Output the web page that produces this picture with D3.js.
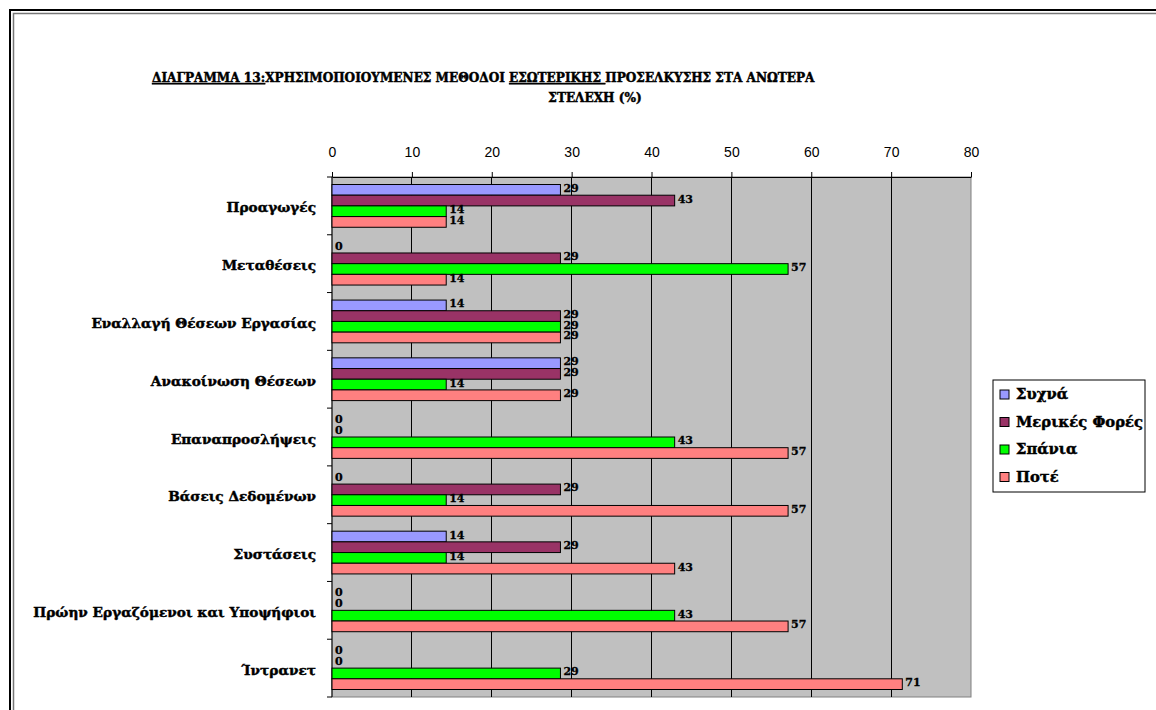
<!DOCTYPE html>
<html>
<head>
<meta charset="utf-8">
<script src="https://cdn.jsdelivr.net/npm/d3@7"></script>
<style>
  body { margin: 0; background: #fff; }
  svg { display: block; }
  .ttl, .cat, .val, .leg { font-family: "DejaVu Serif", serif; font-weight: bold;
                           stroke: #000; stroke-width: 0.45px; paint-order: stroke; }
  .ttl { font-size: 13px; }
  .cat { font-size: 14px; }
  .val { font-size: 11px; stroke-width: 0.3px; }
  .leg { font-size: 15px; }
  .tick-x { font-family: "Liberation Sans", Arial, sans-serif; font-size: 14px; }
</style>
</head>
<body>
<svg id="chart"></svg>
<script>
//
// data (% of 7 answers)
var categories = ['Προαγωγές', 'Μεταθέσεις', 'Εναλλαγή Θέσεων Εργασίας', 'Ανακοίνωση Θέσεων',
                  'Επαναπροσλήψεις', 'Βάσεις Δεδομένων', 'Συστάσεις',
                  'Πρώην Εργαζόμενοι και Υποψήφιοι', 'Ίντρανετ'];
var seriesNames = ['Συχνά', 'Μερικές Φορές', 'Σπάνια', 'Ποτέ'];
var often     = [28.6, 0,    14.3, 28.6, 0,    0,    14.3, 0,    0];
var sometimes = [42.9, 28.6, 28.6, 28.6, 0,    28.6, 28.6, 0,    0];
var rarely    = [14.3, 57.1, 28.6, 14.3, 42.9, 14.3, 14.3, 42.9, 28.6];
var never     = [14.3, 14.3, 28.6, 28.6, 57.1, 57.1, 42.9, 57.1, 71.4];
var xTicks = [0, 10, 20, 30, 40, 50, 60, 70, 80];
var colors = ['#9999ff', '#993366', '#00ff00', '#ff8080'];

var series = [often, sometimes, rarely, never];

var W = 1156, H = 710,
    pLeft = 332, pRight = 971, pTop = 177, pBottom = 697;

var svg = d3.select('#chart').attr('width', W).attr('height', H);

// scale a text group's font so that its widest text is `target` px wide
var fitSize = function(sel, target, base) {
  var widest = d3.max(sel.nodes(), function(n) { return n.getComputedTextLength(); });
  sel.style('font-size', (base * target / widest).toFixed(2) + 'px');
};

//
// frame (double line at top and left)
svg.append('path').attr('fill', 'none').attr('stroke', '#000').attr('stroke-width', 2)
  .attr('d', 'M10,' + H + ' V10 H' + W);
svg.append('path').attr('fill', 'none').attr('stroke', '#777').attr('stroke-width', 1.5)
  .attr('d', 'M13.5,' + H + ' V13.5 H' + W);

//
// title
var t1 = svg.append('text').attr('class', 'ttl').attr('x', 152).attr('y', 82);
t1.append('tspan').attr('text-decoration', 'underline').text('ΔΙΑΓΡΑΜΜΑ 13:');
t1.append('tspan').text('ΧΡΗΣΙΜΟΠΟΙΟΥΜΕΝΕΣ ΜΕΘΟΔΟΙ ');
t1.append('tspan').attr('text-decoration', 'underline').text('ΕΣΩΤΕΡΙΚΗΣ ');
t1.append('tspan').text('ΠΡΟΣΕΛΚΥΣΗΣ ΣΤΑ ΑΝΩΤΕΡΑ');
fitSize(t1, 663, 13);
svg.append('text').attr('class', 'ttl').attr('x', 595).attr('y', 102)
  .attr('text-anchor', 'middle').style('font-size', t1.style('font-size')).text('ΣΤΕΛΕΧΗ (%)');

//
// scales
var x = d3.scaleLinear().domain([0, 80]).range([pLeft, pRight]);
var y = d3.scaleBand().domain(categories).range([pTop, pBottom]).paddingInner(0.26).paddingOuter(0.13);
var y1 = d3.scaleBand().domain(d3.range(4)).range([0, y.bandwidth()]);

// plot area
svg.append('rect').attr('x', pLeft).attr('y', pTop)
  .attr('width', pRight - pLeft).attr('height', pBottom - pTop)
  .attr('fill', '#c0c0c0').attr('stroke', '#808080');

// grid
svg.selectAll('.grid').data(xTicks.slice(1, -1)).enter()
  .append('line').attr('class', 'grid')
  .attr('x1', x).attr('x2', x).attr('y1', pTop).attr('y2', pBottom)
  .attr('stroke', '#000').attr('stroke-width', 1).attr('shape-rendering', 'crispEdges');

// top axis
var xAxis = svg.append('g').attr('transform', 'translate(0,' + pTop + ')')
  .call(d3.axisTop(x).tickValues(xTicks).tickSize(5).tickPadding(15).tickSizeOuter(0));
xAxis.select('.domain').attr('stroke', '#000');
xAxis.selectAll('text').attr('class', 'tick-x').attr('font-family', null).attr('font-size', null);

// left axis (ticks at category boundaries)
var bounds = d3.range(categories.length + 1).map(function(i) {
  return pTop + i * (pBottom - pTop) / categories.length;
});
svg.append('line').attr('x1', pLeft).attr('x2', pLeft).attr('y1', pTop).attr('y2', pBottom)
  .attr('stroke', '#000');
svg.selectAll('.ytick').data(bounds).enter()
  .append('line').attr('class', 'ytick')
  .attr('x1', pLeft - 5).attr('x2', pLeft).attr('y1', function(d) { return d; }).attr('y2', function(d) { return d; })
  .attr('stroke', '#000');

// category labels
var cats = svg.selectAll('.cat').data(categories).enter()
  .append('text').attr('class', 'cat')
  .attr('x', 316).attr('y', function(d) { return y(d) + y.bandwidth() / 2 + 3; })
  .attr('text-anchor', 'end').attr('dominant-baseline', 'middle')
  .text(function(d) { return d; });
fitSize(cats, 283, 14);

// bars
var fmt = d3.format('.0f');
var groups = svg.selectAll('.cat-group').data(categories).enter()
  .append('g').attr('class', 'cat-group')
  .attr('transform', function(d) { return 'translate(0,' + y(d) + ')'; });

groups.selectAll('rect').data(function(d, i) {
    return series.map(function(s, k) { return { k: k, v: s[i] }; });
  }).enter()
  .append('rect')
    .attr('x', pLeft)
    .attr('y', function(d) { return y1(d.k); })
    .attr('width', function(d) { return x(d.v) - pLeft; })
    .attr('height', y1.bandwidth())
    .attr('fill', function(d) { return colors[d.k]; })
    .attr('stroke', function(d) { return d.v > 0 ? '#000' : 'none'; });

groups.selectAll('text').data(function(d, i) {
    return series.map(function(s, k) { return { k: k, v: s[i] }; });
  }).enter()
  .append('text').attr('class', 'val')
    .attr('x', function(d) { return x(d.v) + 3; })
    .attr('y', function(d) { return y1(d.k) + y1.bandwidth() / 2 - 1; })
    .attr('dominant-baseline', 'middle')
    .text(function(d) { return fmt(d.v); });

//
// legend
var leg = svg.append('g').attr('transform', 'translate(993,380)');
leg.append('rect').attr('width', 152).attr('height', 112)
  .attr('fill', '#fff').attr('stroke', '#000');
var item = leg.selectAll('.item').data(seriesNames).enter()
  .append('g').attr('class', 'item')
  .attr('transform', function(d, i) { return 'translate(7,' + (15 + i * 27.5) + ')'; });
item.append('rect').attr('x', 0).attr('y', -5).attr('width', 9).attr('height', 9)
  .attr('fill', function(d, i) { return colors[i]; }).attr('stroke', '#000');
var legText = item.append('text').attr('class', 'leg').attr('x', 16).attr('y', 0)
  .attr('dominant-baseline', 'middle').text(function(d) { return d; });
fitSize(legText, 127, 15);
</script>
</body>
</html>
